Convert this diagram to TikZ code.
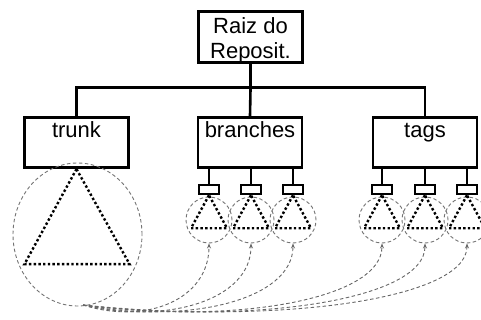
\documentclass[tikz,border=0pt]{standalone}
\usepackage{fontspec}
\setmainfont{Liberation Sans}
\usetikzlibrary{shapes.geometric,arrows.meta}

\begin{document}
\begin{tikzpicture}[
	x=1pt, y=-1pt,
	repo/.style={
		rectangle,
		draw=black,
		line width=2.6pt,
		align=center,
		minimum width=104pt,
		minimum height=50.5pt,
		font=\fontsize{22}{25}\selectfont
	},
	dir/.style={
		repo,
		text height=18.5pt,
		text depth=27.5pt,
		inner ysep=2.2pt
	},
	tab/.style={
		rectangle,
		draw=black,
		line width=2.4pt,
		inner sep=0pt,
		minimum width=20pt,
		minimum height=9pt
	},
	area/.style={
		circle,
		draw=black!55,
		line width=0.9pt,
		dash pattern=on 3.5pt off 2.5pt,
		inner sep=0pt,
		minimum size=46pt
	},
	stem/.style={
		draw=black,
		line width=2.6pt
	},
	tree/.style={
		draw=black,
		line width=2.4pt,
		dash pattern=on 2.4pt off 2.3pt
	},
	copyline/.style={
		draw=black!60,
		line width=0.9pt,
		dash pattern=on 3.5pt off 2.5pt,
		-{Stealth[length=5pt,width=4pt]}
	},
]

\useasboundingbox (0,0) rectangle (481,320);

% Root and top level folders
\node[repo, text height=45pt, text depth=2pt, inner ysep=2.2pt] (root) at (250.5,37) {Raiz do\\Reposit.};
\node[dir] (trunk) at (76.5,142.5) {trunk};
\node[dir] (branches) at (250,142.5) {branches};
\node[dir] (tags) at (425,142.5) {tags};

\coordinate (hub) at (250.5,89);
\draw[stem] (root.south) -- (hub);
\draw[stem] (trunk.north) -- ++(0,-28.5) -| (tags.north);
\draw[stem] (hub) -- (branches.north);

% Branch copies
\node[tab] (b1) at (209,189.5) {};
\node[tab] (b2) at (251,189.5) {};
\node[tab] (b3) at (293,189.5) {};
\draw[stem] (b1.north) -- (b1.north |- branches.south);
\draw[stem] (b2.north) -- (b2.north |- branches.south);
\draw[stem] (b3.north) -- (b3.north |- branches.south);

% Tag copies
\node[tab] (t1) at (382,189.5) {};
\node[tab] (t2) at (425,189.5) {};
\node[tab] (t3) at (467,189.5) {};
\draw[stem] (t1.north) -- (t1.north |- tags.south);
\draw[stem] (t2.north) -- (t2.north |- tags.south);
\draw[stem] (t3.north) -- (t3.north |- tags.south);

% Trees
\node[area, ellipse, minimum width=129pt, minimum height=143pt] (trunkarea) at (77.5,234.5) {};
\draw[tree] (trunk.south) -- ++(-52,95) -- ++(105,0) -- cycle;

\node[area] (ba1) at (209,220) {};
\node[area] (ba2) at (251,220) {};
\node[area] (ba3) at (293,220) {};
\node[area] (ta1) at (382,220) {};
\node[area] (ta2) at (425,220) {};
\node[area] (ta3) at (467,220) {};

\draw[tree] (b1.south) -- ++(-18,33) -- ++(36,0) -- cycle;
\draw[tree] (b2.south) -- ++(-18,33) -- ++(36,0) -- cycle;
\draw[tree] (b3.south) -- ++(-18,33) -- ++(36,0) -- cycle;
\draw[tree] (t1.south) -- ++(-18,33) -- ++(36,0) -- cycle;
\draw[tree] (t2.south) -- ++(-18,33) -- ++(36,0) -- cycle;
\draw[tree] (t3.south) -- ++(-18,33) -- ++(36,0) -- cycle;

% Cheap copies out of trunk
\coordinate (src) at (83,305);
\draw[copyline] (src) .. controls (145.5,325) and (209,300) .. (ba1.south);
\draw[copyline] (src) .. controls (166.5,325) and (251,300) .. (ba2.south);
\draw[copyline] (src) .. controls (187.5,325) and (293,300) .. (ba3.south);
\draw[copyline] (src) .. controls (232,325) and (382,300) .. (ta1.south);
\draw[copyline] (src) .. controls (253.5,325) and (425,300) .. (ta2.south);
\draw[copyline] (src) .. controls (274.5,325) and (467,300) .. (ta3.south);

\end{tikzpicture}
\end{document}
